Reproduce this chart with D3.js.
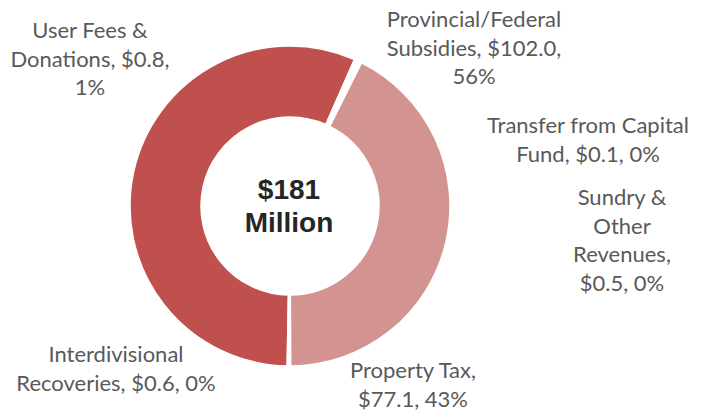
<!DOCTYPE html>
<html>
<head>
<meta charset="utf-8">
<script src="https://cdn.jsdelivr.net/npm/d3@7"></script>
<style>
  body { margin: 0; background: #fff; }
  svg { display: block; }
</style>
</head>
<body>
<div id="chart"></div>
<script>
// revenue sources, in clockwise slice order ($ millions)
var categories = ["Provincial/Federal Subsidies", "User Fees & Donations", "Transfer from Capital Fund",
    "Sundry & Other Revenues", "Property Tax", "Interdivisional Recoveries"];
var values = [102.0, 0.8, 0.1, 0.5, 77.1, 0.6];
// label text as wrapped in the original
var labelLines = [
    ["Provincial/Federal", "Subsidies, $102.0,", "56%"],
    ["User Fees &", "Donations, $0.8,", "1%"],
    ["Transfer from Capital", "Fund, $0.1, 0%"],
    ["Sundry &", "Other", "Revenues,", "$0.5, 0%"],
    ["Property Tax,", "$77.1, 43%"],
    ["Interdivisional", "Recoveries, $0.6, 0%"]
];
var sliceColors = ["#C0504D", "#FFFFFF", "#FFFFFF", "#FFFFFF", "#D39391", "#FFFFFF"];
var centerLines = ["$181", "Million"];

var width = 709, height = 412;
var cx = 290, cy = 206, outerR = 160, innerR = 89;
// where each data label sits (centre x, first baseline)
var labelPos = [[474, 27], [90, 38], [588, 133], [622, 205], [413, 378], [116, 362]];
var lineH = 28.5;

var svg = d3.select("#chart")
    .append("svg")
    .attr("width", width)
    .attr("height", height);

var data = categories.map(function (c, i) { return { name: c, value: values[i], idx: i }; });

var start = 181 * Math.PI / 180;
var pie = d3.pie()
    .sort(null)
    .value(function (d) { return d.value; })
    .startAngle(start)
    .endAngle(start + 2 * Math.PI);

var arc = d3.arc()
    .innerRadius(innerR)
    .outerRadius(outerR);

var g = svg.append("g")
    .attr("transform", "translate(" + cx + "," + cy + ")");

g.selectAll("path")
    .data(pie(data))
    .enter()
    .append("path")
    .attr("d", arc)
    .attr("fill", function (d) { return sliceColors[d.data.idx]; })
    .attr("stroke", "#fff")
    .attr("stroke-width", 1.5);

// centre total
g.selectAll("text.center")
    .data(centerLines)
    .enter()
    .append("text")
    .attr("class", "center")
    .attr("x", -1)
    .attr("y", function (d, i) { return -7 + i * 33; })
    .attr("text-anchor", "middle")
    .style("font-family", "'Liberation Sans', Arial, sans-serif")
    .style("font-weight", "bold")
    .style("font-size", "28px")
    .style("fill", "#262626")
    .text(function (d) { return d; });

// data labels
var labels = svg.selectAll("text.lbl")
    .data(data)
    .enter()
    .append("text")
    .attr("class", "lbl")
    .attr("text-anchor", "middle")
    .style("font-family", "Lato, 'Open Sans', sans-serif")
    .style("font-size", "22px")
    .style("fill", "#595959");

labels.each(function (d) {
    var p = labelPos[d.idx];
    d3.select(this).selectAll("tspan")
        .data(labelLines[d.idx])
        .enter()
        .append("tspan")
        .attr("x", p[0])
        .attr("y", function (t, j) { return p[1] + j * lineH; })
        .text(function (t) { return t; });
});
</script>
</body>
</html>
